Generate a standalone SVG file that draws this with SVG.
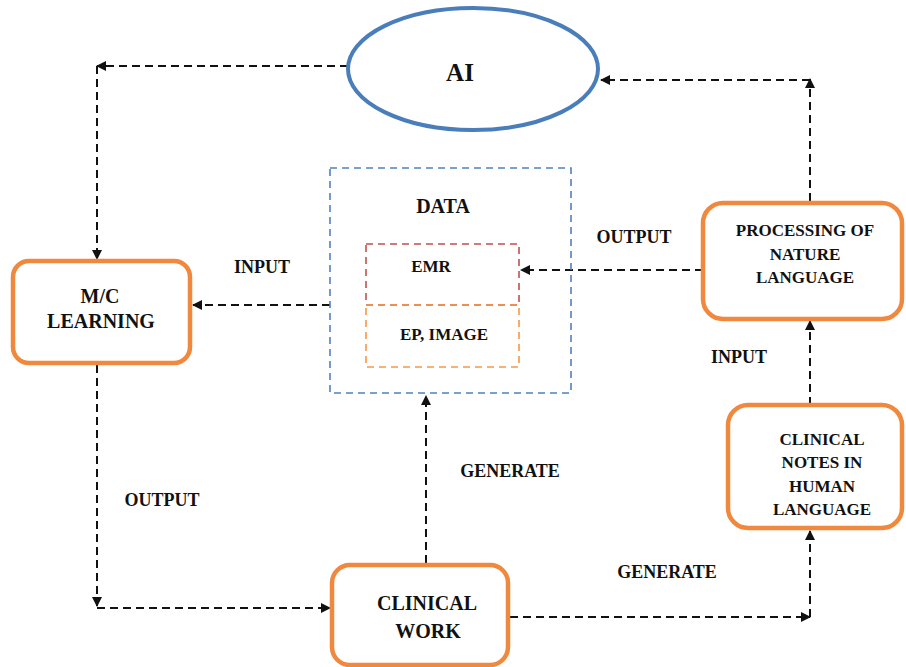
<svg xmlns="http://www.w3.org/2000/svg" width="906" height="667" viewBox="0 0 906 667" font-family="'Liberation Serif', 'DejaVu Serif', serif" font-weight="bold">
<style>
text{font-family:'Liberation Serif','DejaVu Serif',serif;font-weight:700;fill:#111;text-anchor:middle}
.box{fill:#fff;stroke:#F0883E;stroke-width:4.5}
.con{fill:none;stroke:#111;stroke-width:2;stroke-dasharray:8 5}
.lbl{font-size:18px}
.bt{font-size:17px}
</style>
<defs>
<marker id="ah" viewBox="0 0 10 10" refX="9" refY="5" markerWidth="10" markerHeight="10" markerUnits="userSpaceOnUse" orient="auto">
<path d="M0,0 L10,5 L0,10 Z" fill="#111"/>
</marker>
</defs>
<rect width="906" height="667" fill="#fff"/>
<g id="connectors">
<path class="con" d="M348,66 H97" marker-end="url(#ah)"/>
<path class="con" d="M97,66 V259" marker-end="url(#ah)"/>
<path class="con" d="M330,305 H193" marker-end="url(#ah)"/>
<path class="con" d="M97,365 V606" marker-end="url(#ah)"/>
<path class="con" d="M97,608 H330" marker-end="url(#ah)"/>
<path class="con" d="M426,563 V396" marker-end="url(#ah)"/>
<path class="con" d="M510,617 H810" marker-end="url(#ah)"/>
<path class="con" d="M810,617 V531" marker-end="url(#ah)"/>
<path class="con" d="M810,405 V321" marker-end="url(#ah)"/>
<path class="con" d="M810,201 V79" marker-end="url(#ah)"/>
<path class="con" d="M810,80 H601" marker-end="url(#ah)"/>
<path class="con" d="M703,270 H521" marker-end="url(#ah)"/>
</g>
<g id="labels">
<text class="lbl" x="262" y="273">INPUT</text>
<text class="lbl" x="634" y="243">OUTPUT</text>
<text class="lbl" x="739" y="363">INPUT</text>
<text class="lbl" x="162" y="506">OUTPUT</text>
<text class="lbl" x="510" y="477">GENERATE</text>
<text class="lbl" x="667" y="578">GENERATE</text>
</g>
<g id="ai">
<ellipse cx="473" cy="69" rx="125" ry="61" fill="#fff" stroke="#4A7EBB" stroke-width="4"/>
<text x="460" y="81" font-size="25">AI</text>
</g>
<g id="data">
<rect x="330" y="168" width="241" height="225" fill="none" stroke="#4F81BD" stroke-width="1.6" stroke-dasharray="7 5"/>
<text x="443" y="213" font-size="20">DATA</text>
</g>
<g id="emr">
<rect x="366" y="244" width="153" height="61" fill="none" stroke="#C0504D" stroke-width="1.6" stroke-dasharray="7 5"/>
<text class="bt" x="431" y="272">EMR</text>
</g>
<g id="ep-image">
<rect x="366" y="305" width="153" height="62" fill="none" stroke="#F79646" stroke-width="1.6" stroke-dasharray="7 5"/>
<text class="bt" x="444" y="340">EP, IMAGE</text>
</g>
<g id="mc-learning">
<rect class="box" x="13" y="261" width="177" height="102" rx="16"/>
<text x="100" y="303" font-size="20">M/C</text>
<text x="101" y="328" font-size="20">LEARNING</text>
</g>
<g id="pnl">
<rect class="box" x="703" y="203" width="199" height="116" rx="20"/>
<text class="bt" x="805" y="236">PROCESSING OF</text>
<text class="bt" x="805" y="260">NATURE</text>
<text class="bt" x="805" y="283">LANGUAGE</text>
</g>
<g id="clinical-notes">
<rect class="box" x="728" y="405" width="174" height="123" rx="20"/>
<text class="bt" x="822" y="445">CLINICAL</text>
<text class="bt" x="822" y="468">NOTES IN</text>
<text class="bt" x="822" y="492">HUMAN</text>
<text class="bt" x="822" y="515">LANGUAGE</text>
</g>
<g id="clinical-work">
<rect class="box" x="332" y="565" width="176" height="100" rx="18"/>
<text x="427" y="610" font-size="20">CLINICAL</text>
<text x="428" y="638" font-size="20">WORK</text>
</g>
</svg>
